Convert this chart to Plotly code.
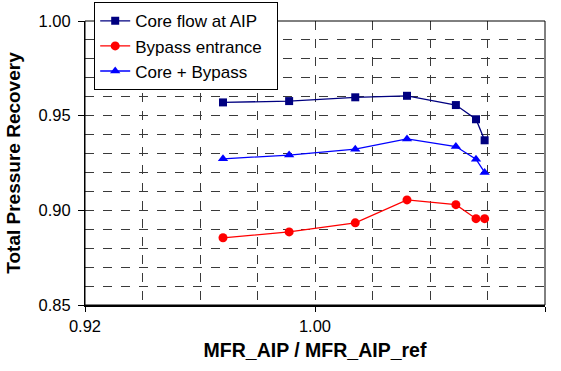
import plotly.graph_objects as go

# Mass-flow ratio at the AIP (normalised by the reference value)
mfr_ratio = [0.968, 0.991, 1.014, 1.032, 1.049, 1.056, 1.059]

# Total pressure recovery for each measurement station
core_flow_aip = [0.957, 0.9577, 0.9597, 0.9605, 0.9556, 0.9481, 0.937]
bypass_entrance = [0.8855, 0.8886, 0.8934, 0.9055, 0.903, 0.8956, 0.8956]
core_plus_bypass = [0.9272, 0.9292, 0.9323, 0.9377, 0.9337, 0.927, 0.920]

series_names = ["Core flow at AIP", "Bypass entrance\u00a0\u00a0", "Core + Bypass"]

FONT = "Liberation Sans, Arial, Helvetica, sans-serif"
GRID = "#3a3a3a"

fig = go.Figure()

fig.add_trace(go.Scatter(
    x=mfr_ratio, y=core_flow_aip, name=series_names[0], mode="lines+markers",
    line=dict(color="#000080", width=1.3),
    marker=dict(symbol="square", size=8, color="#000080"),
))
fig.add_trace(go.Scatter(
    x=mfr_ratio, y=bypass_entrance, name=series_names[1], mode="lines+markers",
    line=dict(color="#ff0000", width=1.3),
    marker=dict(symbol="circle", size=9, color="#ff0000"),
))
fig.add_trace(go.Scatter(
    x=mfr_ratio, y=core_plus_bypass, name=series_names[2], mode="lines+markers",
    line=dict(color="#0000ff", width=1.3),
    marker=dict(symbol="triangle-up", size=9, color="#0000ff"),
))

fig.update_layout(
    width=561, height=371,
    margin=dict(l=85, r=16, t=21, b=66, autoexpand=False),
    paper_bgcolor="white", plot_bgcolor="white",
    font=dict(family=FONT, size=16.5, color="black"),
    showlegend=True,
    legend=dict(
        x=0.02, y=1.066, xanchor="left", yanchor="top",
        bgcolor="white", bordercolor="black", borderwidth=1,
        font=dict(family=FONT, size=17, color="black"),
        tracegroupgap=0,
    ),
    xaxis=dict(
        range=[0.92, 1.08], dtick=0.08, tick0=0.92, tickformat=".2f",
        ticks="outside", ticklen=5, tickcolor="black", tickwidth=1,
        showline=True, linecolor="black", linewidth=2,
        showgrid=True, gridcolor=GRID, griddash="dash", gridwidth=1,
        minor=dict(dtick=0.02, tick0=0.92, showgrid=True, gridcolor=GRID,
                   griddash="dash", gridwidth=1, ticks=""),
        zeroline=False,
        title=dict(text="<b>MFR_AIP / MFR_AIP_ref</b>",
                   font=dict(family=FONT, size=19.5), standoff=10),
        tickfont=dict(family=FONT, size=16.5),
    ),
    yaxis=dict(
        range=[0.85, 1.00], dtick=0.05, tick0=0.85, tickformat=".2f",
        ticks="outside", ticklen=6, tickcolor="black", tickwidth=1,
        showline=True, linecolor="black", linewidth=1,
        showgrid=True, gridcolor=GRID, griddash="dash", gridwidth=1,
        minor=dict(dtick=0.01, tick0=0.85, showgrid=True, gridcolor=GRID,
                   griddash="dash", gridwidth=1, ticks=""),
        zeroline=False, ticklabelstandoff=4,
        title=dict(text="<b>Total Pressure Recovery</b>",
                   font=dict(family=FONT, size=19), standoff=12),
        tickfont=dict(family=FONT, size=16.5),
    ),
    shapes=[dict(type="rect", xref="paper", yref="paper", x0=0, y0=0, x1=1, y1=1,
                 line=dict(color="black", width=1), layer="above")],
)

fig.write_html("out.html")
